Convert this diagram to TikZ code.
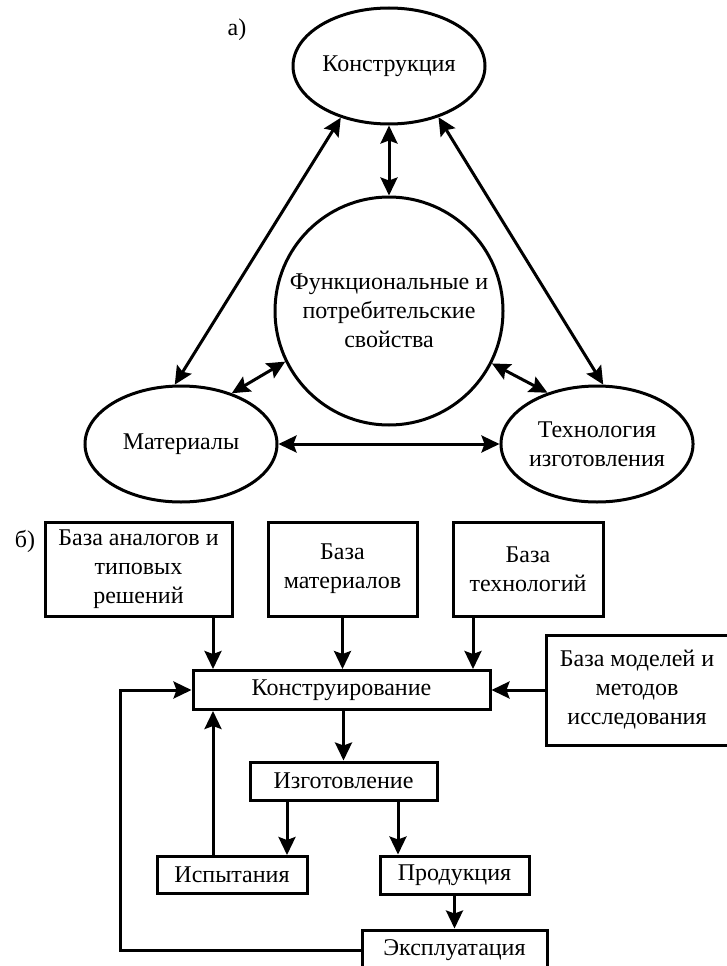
\documentclass[tikz,border=0pt]{standalone}
\usepackage{fontspec}
\setmainfont{Liberation Serif}
\usetikzlibrary{arrows.meta,shapes.geometric}

\begin{document}
\begin{tikzpicture}[x=1pt,y=-1pt,
  font=\fontsize{24}{29}\selectfont,
  head/.tip={Stealth[length=18pt,width=17pt,inset=3pt]},
  oval/.style={draw,ellipse,line width=3pt,inner sep=0pt,
               minimum width=192pt,minimum height=116pt,align=center},
  ring/.style={draw,circle,line width=3pt,inner sep=0pt,
               minimum size=228pt,align=center},
  box/.style={draw,rectangle,line width=3pt,inner sep=0pt,align=center},
  dbl/.style={line width=3pt,head-head},
  arr/.style={line width=3pt,-head}]
\useasboundingbox (0,0) rectangle (726,966);

% ---- part a: elements of the product and their links
\node (la) at (237,30) {а)};
\node[oval] (kon)  at (389,66)  {Конструкция};
\node[ring] (fun)  at (389,311) {Функциональные и\\потребительские\\свойства};
\node[oval] (mat)  at (181,444) {Материалы};
\node[oval] (tech) at (597,444) {Технология\\изготовления};

\draw[dbl] (kon.south) -- (fun.north);
\draw[dbl] (kon.227) -- (mat.96);
\draw[dbl] (kon.314) -- (tech.84);
\draw[dbl] (fun.206.6) -- (mat.45);
\draw[dbl] (fun.333.4) -- (tech.134);
\draw[dbl] (mat.east) -- (tech.west);

% ---- part b: design process with its knowledge bases
\node (lb) at (25,541) {б)};
\node[box,minimum width=187pt,minimum height=94pt] (b1) at (138.5,569) {База аналогов и\\типовых\\решений};
\node[box,minimum width=149pt,minimum height=94pt] (b2) at (342.5,569) {База\\материалов};
\node[box,minimum width=150pt,minimum height=94pt] (b3) at (528,569) {База\\технологий};
\node[box,minimum width=297pt,minimum height=39pt] (kr) at (341.5,690) {Конструирование};
\node[box,minimum width=182pt,minimum height=110pt] (bm) at (637,690) {База моделей и\\методов\\исследования};
\node[box,minimum width=187pt,minimum height=38pt] (iz) at (343.5,781) {Изготовление};
\node[box,minimum width=150pt,minimum height=37pt] (isp) at (232,875) {Испытания};
\node[box,minimum width=149pt,minimum height=38pt] (prod) at (454.5,875) {Продукция};
\node[box,minimum width=185pt,minimum height=40pt] (ex) at (454.5,950) {Эксплуатация};

\coordinate (xa) at (213,0);
\coordinate (xc) at (473,0);
\coordinate (xd) at (287,0);
\coordinate (xe) at (398,0);
\coordinate (xf) at (120,0);

\draw[arr] (b1.south -| xa) -- (kr.north -| xa);
\draw[arr] (b2.south) -- (kr.north -| b2.south);
\draw[arr] (b3.south -| xc) -- (kr.north -| xc);
\draw[arr] (bm.west) -- (kr.east);
\draw[arr] (kr.south -| iz.north) -- (iz.north);
\draw[arr] (iz.south -| xd) -- (isp.north -| xd);
\draw[arr] (iz.south -| xe) -- (prod.north -| xe);
\draw[arr] (prod.south) -- (ex.north);
\draw[arr] (isp.north -| xa) -- (kr.south -| xa);
\draw[arr] (ex.west) -- (ex.west -| xf) |- (kr.west);
\end{tikzpicture}
\end{document}
